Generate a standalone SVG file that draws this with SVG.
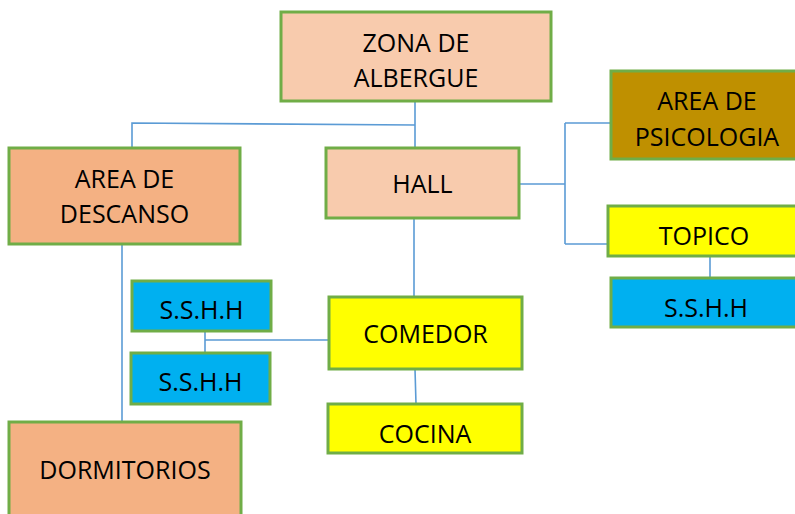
<svg xmlns="http://www.w3.org/2000/svg" width="795" height="514" viewBox="0 0 795 514">
<style>
rect{stroke:#70AD47;stroke-width:3}
text{font-family:"Open Sans","Noto Sans","Liberation Sans",sans-serif;font-size:25px;fill:#000;text-anchor:middle}
.c{fill:none;stroke:#5B9BD5;stroke-width:1.6}
.p1{fill:#F8CBAD}.p2{fill:#F4B183}.g{fill:#BF9000}.y{fill:#FFFF00}.b{fill:#00B0F0}
</style>
<rect width="795" height="514" fill="#fff" style="stroke:none"/>
<g id="connectors">
<path class="c" d="M415 101V148M132 148V123L415 125"/>
<path class="c" d="M519 184H565M565 123V244M565 123H611M565 244H608"/>
<path class="c" d="M122 244V422"/>
<path class="c" d="M414 218V297M415 369L416 404"/>
<path class="c" d="M205 331V353M205 340H329"/>
<path class="c" d="M710 256V278"/>
</g>
<g id="zona"><rect class="p1" x="281" y="12" width="270" height="89"/><text x="416" y="52">ZONA DE</text><text x="416" y="87">ALBERGUE</text></g>
<g id="descanso"><rect class="p2" x="9" y="148" width="231" height="96"/><text x="124.5" y="188">AREA DE</text><text x="124.5" y="223">DESCANSO</text></g>
<g id="hall"><rect class="p1" x="326" y="148" width="193" height="70"/><text x="422.5" y="193">HALL</text></g>
<g id="psicologia"><rect class="g" x="611" y="71" width="192" height="88"/><text x="707" y="110">AREA DE</text><text x="707" y="146">PSICOLOGIA</text></g>
<g id="topico"><rect class="y" x="608" y="206" width="192" height="50"/><text x="704" y="245">TOPICO</text></g>
<g id="sshh3"><rect class="b" x="611" y="278" width="190" height="49"/><text x="706" y="317">S.S.H.H</text></g>
<g id="sshh1"><rect class="b" x="132" y="281" width="139" height="50"/><text x="201.5" y="319">S.S.H.H</text></g>
<g id="sshh2"><rect class="b" x="131" y="353" width="139" height="51"/><text x="200.5" y="391">S.S.H.H</text></g>
<g id="comedor"><rect class="y" x="329" y="297" width="193" height="72"/><text x="425.5" y="343">COMEDOR</text></g>
<g id="cocina"><rect class="y" x="328" y="404" width="194" height="49"/><text x="425" y="443">COCINA</text></g>
<g id="dormitorios"><rect class="p2" x="9" y="422" width="232" height="100"/><text x="125" y="479">DORMITORIOS</text></g>
</svg>
